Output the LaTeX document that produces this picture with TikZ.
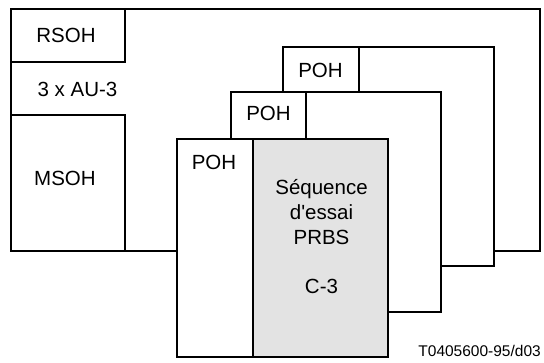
\documentclass[tikz,border=0pt]{standalone}
\usepackage{fontspec}
\setmainfont{Liberation Sans}
\definecolor{greyfill}{HTML}{E3E3E3}
\begin{document}
\begin{tikzpicture}[x=1pt,y=-1pt,
  box/.style={draw=black,line width=1.8pt,inner sep=0pt,outer sep=0pt,anchor=north west},
  lbl/.style={inner sep=0pt,anchor=base,font=\fontsize{20.5}{25}\selectfont},
  small/.style={inner sep=0pt,anchor=base east,font=\fontsize{15.5}{18}\selectfont}]
\useasboundingbox (0,0) rectangle (544,363);
% outer frame with RSOH and MSOH
\node[box,minimum width=529pt,minimum height=242pt] (outer) at (11,9) {};
\node[box,minimum width=114pt,minimum height=53pt] (rsoh) at (11,9) {};
\node[box,minimum width=114pt,minimum height=136pt] (msoh) at (11,115) {};
% back frame
\node[box,fill=white,minimum width=211pt,minimum height=219pt] (back) at (283,47) {};
\node[box,minimum width=76pt,minimum height=45pt] (backpoh) at (283,47) {};
% middle frame
\node[box,fill=white,minimum width=210pt,minimum height=220pt] (mid) at (231,92) {};
\node[box,minimum width=75pt,minimum height=47pt] (midpoh) at (231,92) {};
% front frame
\node[box,fill=white,minimum width=211pt,minimum height=218pt] (front) at (177,139) {};
\node[box,fill=greyfill,minimum width=135pt,minimum height=218pt] (payload) at (253,139) {};
% labels
\node[lbl] (trsoh) at (66,43) {RSOH};
\node[lbl] (tau) at (77.5,97) {3 x AU-3};
\node[lbl] (tmsoh) at (65,186) {MSOH};
\node[lbl] (tbpoh) at (320.5,78) {POH};
\node[lbl] (tmpoh) at (268.5,121) {POH};
\node[lbl] (tfpoh) at (214,170) {POH};
\node[lbl] (t1) at (321.5,195) {Séquence};
\node[lbl] (t2) at (321.5,219.5) {d\textquotesingle essai};
\node[lbl] (t3) at (321.5,245) {PRBS};
\node[lbl] (t4) at (321.5,294) {C-3};
\node[small] (code) at (541,357) {T0405600-95/d03};
\end{tikzpicture}
\end{document}
